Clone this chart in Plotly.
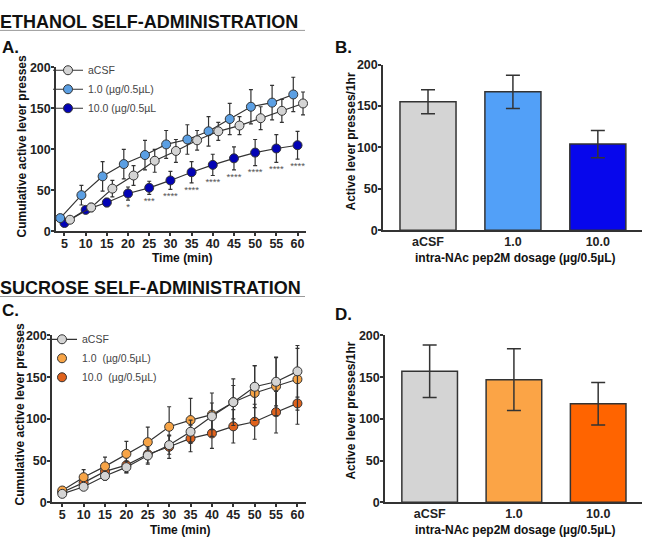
import plotly.graph_objects as go

W, H = 651, 555

# ---------------- data ----------------
times = [5, 10, 15, 20, 25, 30, 35, 40, 45, 50, 55, 60]

# Panel A (ethanol, cumulative)
eth_acsf_mean = [14, 29, 52, 68, 86, 98, 111, 122, 129, 138, 147, 156]
eth_acsf_sem = [3, 5, 10, 12, 14, 14, 12, 11, 11, 14, 14, 14]
eth_1_mean = [16, 44, 67, 82, 93, 106, 112, 122, 137, 152, 157, 167]
eth_1_sem = [3, 12, 18, 18, 18, 17, 18, 18, 19, 21, 21, 21]
eth_10_mean = [10, 26, 35, 46, 53, 62, 72, 81, 89, 96, 101, 105]
eth_10_sem = [3, 4, 5, 8, 8, 11, 13, 13, 14, 16, 17, 17]
eth_stars = ["", "", "", "*", "***", "****", "****", "****", "****", "****", "****", "****"]

# Panel B (ethanol, 1 hr)
dose_labels = ["aCSF", "1.0", "10.0"]
eth_bar_mean = [155, 167, 104]
eth_bar_sem = [14.5, 20, 16.5]

# Panel C (sucrose, cumulative)
suc_acsf_mean = [10, 18.5, 31.5, 42, 56, 68.5, 84.5, 103, 120, 138.5, 144.5, 157]
suc_acsf_sem = [2, 3, 5, 7, 9, 11, 14, 16, 20, 25, 29, 31]
suc_1_mean = [14, 30, 43, 58, 72, 90.5, 98.5, 105, 120, 131, 139, 147.5]
suc_1_sem = [2, 9, 11, 15, 18, 24, 26, 26, 28, 33, 35, 37]
suc_10_mean = [12, 23.5, 37, 44.5, 57.5, 66.5, 76.5, 82.5, 91, 96.5, 108, 118.5]
suc_10_sem = [2, 4, 6, 9, 12, 14, 16, 18, 20, 21, 25, 25]

# Panel D (sucrose, 1 hr)
suc_bar_mean = [157, 147, 118]
suc_bar_sem = [31.5, 37, 25.5]

# ---------------- style ----------------
FONT = "Liberation Sans, Arial, sans-serif"
AX = "#333333"
grey_fill = "#d4d4d4"
eth_c1, eth_c10 = "#5b9fe3", "#0303b5"
eth_b1, eth_b10 = "#52a0f8", "#0707ec"
suc_c1, suc_c10 = "#f7a446", "#e0621c"
suc_b1, suc_b10 = "#fba446", "#ff6400"


def px_x(p):
    return p / W


def px_y(p):
    return 1 - p / H


fig = go.Figure()


def line_trace(x, y, e, color, name, xa, ya, legend, showlegend=True, rank=1, offset=0.0):
    return go.Scatter(
        x=[t + offset for t in x], y=y, name=name, mode="lines+markers",
        xaxis=xa, yaxis=ya, legend=legend, showlegend=showlegend, legendrank=rank,
        line=dict(color=AX, width=1.2),
        marker=dict(size=9, color=color, line=dict(color=AX, width=1)),
        error_y=dict(type="data", array=e, visible=True, color=AX, thickness=1.2, width=2),
        cliponaxis=False,
    )


# Panel A
fig.add_trace(line_trace(times, eth_10_mean, eth_10_sem, eth_c10, "10.0 (µg/0.5µL", "x", "y", "legend", rank=3, offset=0.0))
fig.add_trace(line_trace(times, eth_1_mean, eth_1_sem, eth_c1, "1.0 (µg/0.5µL)", "x", "y", "legend", rank=2, offset=-1.0))
fig.add_trace(line_trace(times, eth_acsf_mean, eth_acsf_sem, grey_fill, "aCSF", "x", "y", "legend", rank=1, offset=1.3))
fig.add_trace(go.Scatter(
    x=times, y=[m - s - 9 for m, s in zip(eth_10_mean, eth_10_sem)], text=eth_stars,
    mode="text", textfont=dict(family=FONT, size=9.5, color="#555555"),
    xaxis="x", yaxis="y", showlegend=False, hoverinfo="skip",
))

# Panel B
fig.add_trace(go.Bar(
    x=dose_labels, y=eth_bar_mean, width=0.66, xaxis="x2", yaxis="y2", showlegend=False,
    marker=dict(color=[grey_fill, eth_b1, eth_b10], line=dict(color=AX, width=1.5)),
    error_y=dict(type="data", array=eth_bar_sem, visible=True, color=AX, thickness=1.5, width=7),
))

# Panel C
fig.add_trace(line_trace(times, suc_10_mean, suc_10_sem, suc_c10, "10.0  (µg/0.5µL)", "x3", "y3", "legend2", showlegend=False))
fig.add_trace(line_trace(times, suc_1_mean, suc_1_sem, suc_c1, "1.0  (µg/0.5µL)", "x3", "y3", "legend2", showlegend=False))
fig.add_trace(line_trace(times, suc_acsf_mean, suc_acsf_sem, grey_fill, "aCSF", "x3", "y3", "legend2", rank=1))
for nm, col, rk in [("1.0  (µg/0.5µL)", suc_c1, 2), ("10.0  (µg/0.5µL)", suc_c10, 3)]:
    fig.add_trace(go.Scatter(
        x=[None], y=[None], mode="markers", name=nm, xaxis="x3", yaxis="y3",
        legend="legend2", legendrank=rk,
        marker=dict(size=9, color=col, line=dict(color=AX, width=1)),
    ))

# Panel D
fig.add_trace(go.Bar(
    x=dose_labels, y=suc_bar_mean, width=0.66, xaxis="x4", yaxis="y4", showlegend=False,
    marker=dict(color=[grey_fill, suc_b1, suc_b10], line=dict(color=AX, width=1.5)),
    error_y=dict(type="data", array=suc_bar_sem, visible=True, color=AX, thickness=1.5, width=7),
))

tickfont = dict(family=FONT, size=12.5, color="#222222", weight="bold")


def xaxis_common(domain, anchor, **kw):
    d = dict(domain=domain, anchor=anchor, showline=True, linecolor=AX, linewidth=1.5,
             showgrid=False, zeroline=False, tickfont=tickfont)
    d.update(kw)
    return d


def yaxis_common(domain, anchor, **kw):
    d = dict(domain=domain, anchor=anchor, showline=True, linecolor=AX, linewidth=1.5,
             showgrid=False, zeroline=False, tickfont=tickfont,
             range=[0, 200], tickvals=[0, 50, 100, 150, 200], ticks="outside",
             ticklen=3, tickwidth=1.5, tickcolor=AX, ticklabelstandoff=-2)
    d.update(kw)
    return d


xA = [px_x(56), px_x(306)]
yA = [px_y(230), px_y(62)]
xB = [px_x(383), px_x(642)]
yB = [px_y(229), px_y(59)]
xC = [px_x(52), px_x(306)]
yC = [px_y(508), px_y(337)]
xD = [px_x(385), px_x(642)]
yD = [px_y(508), px_y(337)]

time_axis = dict(tickvals=times, ticks="outside", ticklen=3, tickwidth=1.5, tickcolor=AX,
                 ticklabelstandoff=-3)
cat_axis = dict(type="category", range=[-0.53, 2.52], ticks="", ticklabelstandoff=-1)

fig.update_layout(
    width=W, height=H, margin=dict(l=0, r=0, t=0, b=0),
    paper_bgcolor="white", plot_bgcolor="white",
    font=dict(family=FONT, color="#222222"),
    xaxis=xaxis_common(xA, "y", range=[3, 62], **time_axis),
    yaxis=yaxis_common(yA, "x"),
    xaxis2=xaxis_common(xB, "y2", **cat_axis),
    yaxis2=yaxis_common(yB, "x2"),
    xaxis3=xaxis_common(xC, "y3", range=[2.6, 62], **time_axis),
    yaxis3=yaxis_common(yC, "x3"),
    xaxis4=xaxis_common(xD, "y4", **cat_axis),
    yaxis4=yaxis_common(yD, "x4"),
    legend=dict(x=px_x(48), y=px_y(50), xanchor="left", yanchor="top",
                bgcolor="rgba(0,0,0,0)", font=dict(family=FONT, size=10.5, color="#444444"),
                tracegroupgap=0),
    legend2=dict(x=px_x(42), y=px_y(326), xanchor="left", yanchor="top",
                 bgcolor="rgba(0,0,0,0)", font=dict(family=FONT, size=10.5, color="#444444"),
                 tracegroupgap=0),
)

bold = dict(family=FONT, color="#111111", weight="bold")

# headings and panel letters
annots = [
    ("ETHANOL SELF-ADMINISTRATION", -2, 15, 18),
    ("SUCROSE SELF-ADMINISTRATION", -2, 288, 18),
    ("A.", 0, 42, 17),
    ("B.", 333, 42, 17),
    ("C.", 0, 311, 17),
    ("D.", 333, 315, 17),
]
for txt, x, y, sz in annots:
    fig.add_annotation(text=txt, x=px_x(x), y=px_y(y), xref="paper", yref="paper",
                       xanchor="left", yanchor="middle", showarrow=False,
                       font=dict(size=sz, **bold))

# axis titles
axis_titles = [
    ("Time (min)", 182, 258, 0),
    ("Time (min)", 180, 537, 0),
    ("intra-NAc pep2M dosage (µg/0.5µL)", 515, 258, 0),
    ("intra-NAc pep2M dosage (µg/0.5µL)", 515, 537, 0),
    ("Cumulative active lever presses", 22, 143, -90),
    ("Cumulative active lever presses", 20, 418, -90),
    ("Active lever presses/1hr", 351, 138, -90),
    ("Active lever presses/1hr", 351, 414, -90),
]
for txt, x, y, ang in axis_titles:
    fig.add_annotation(text=txt, x=px_x(x), y=px_y(y), xref="paper", yref="paper",
                       xanchor="center", yanchor="middle", showarrow=False, textangle=ang,
                       font=dict(size=12, **bold))

for yy in (24, 297):
    fig.add_shape(type="line", xref="paper", yref="paper", x0=0, x1=px_x(305),
                  y0=px_y(yy), y1=px_y(yy), line=dict(color="#9a9a9a", width=1))

fig.write_html("out.html")
